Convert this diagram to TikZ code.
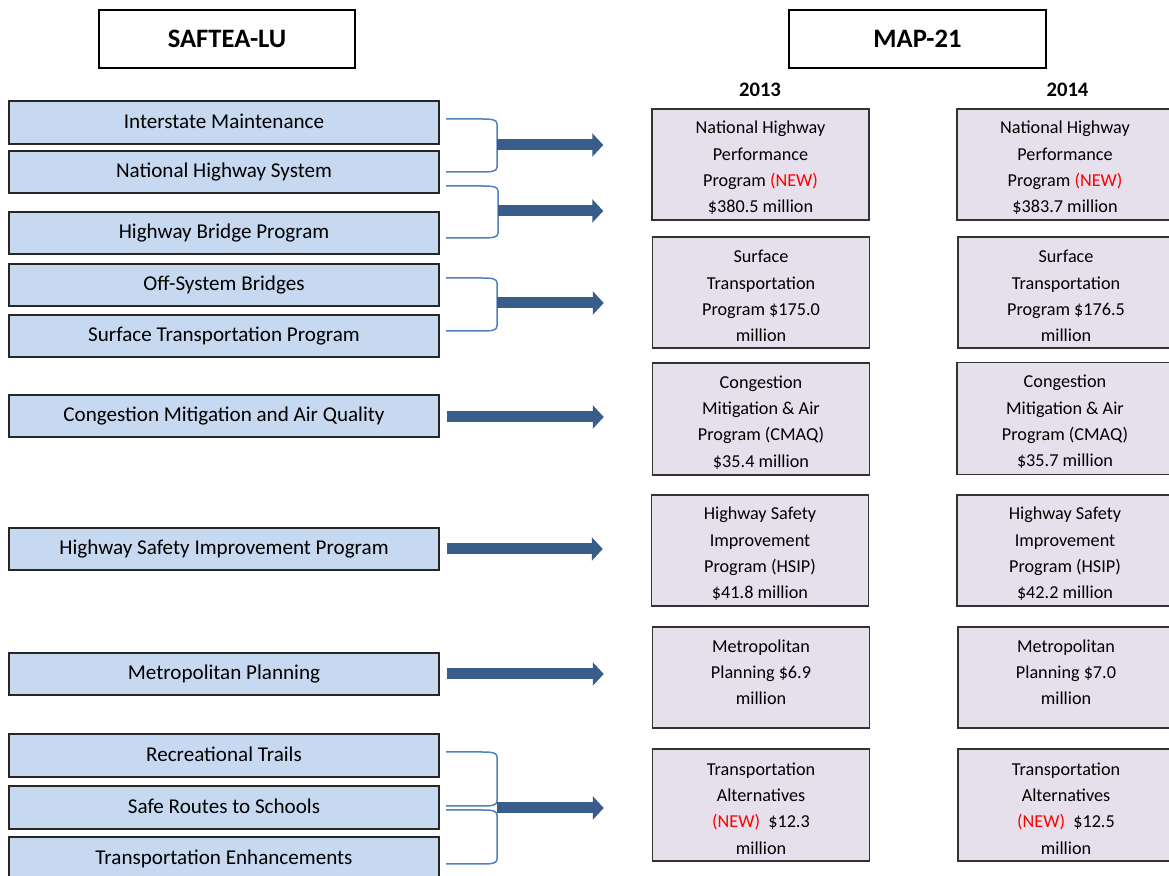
\documentclass[tikz,border=0pt]{standalone}
\usepackage{fontspec}
\setmainfont{Carlito}
\usetikzlibrary{arrows.meta,calc}
\definecolor{lbfill}{HTML}{C6D9F1}
\definecolor{rbfill}{HTML}{E5E0EC}
\definecolor{arrowc}{RGB}{56,93,138}
\definecolor{brkc}{HTML}{4F81BD}
\definecolor{newred}{HTML}{FF0000}
\newcommand\NEW{{\color{newred}(NEW)}}
\newcommand\tstrut{\rule{0pt}{9.8pt}}
\begin{document}
\begin{tikzpicture}[x=0.5pt,y=-0.5pt,
 lbox/.style={draw=black!85, line width=0.9pt, fill=lbfill, minimum width=215pt, minimum height=21.25pt, inner sep=0pt, text height=0.8em, text depth=0.2em, font=\fontsize{10.55}{12}\selectfont},
 rbox/.style={draw=black!80, line width=0.75pt, fill=rbfill, inner sep=0pt, align=center, font=\fontsize{9.1}{13.15}\selectfont},
 rc1/.style={rbox, minimum width=108.5pt},
 rc2/.style={rbox, minimum width=108pt},
 tbox/.style={draw=black, line width=0.8pt, fill=white, minimum width=128pt, minimum height=29pt, inner sep=0pt, font=\bfseries\fontsize{13.3}{16}\selectfont},
 year/.style={inner sep=0pt, font=\bfseries\fontsize{10.3}{12}\selectfont},
 bigarrow/.style={draw=arrowc, line width=5.5pt, -{Triangle[length=5.5pt,width=11.5pt]}, shorten >=24pt},
 brk/.style={draw=brkc, line width=0.75pt},
]
\clip (0,0) rectangle (1169,876);
\fill[white] (0,0) rectangle (1169,876);

% titles
\node[tbox] (saf) at (227,39) {SAFTEA-LU};
\node[tbox, minimum width=128.5pt] (map) at (917.5,39) {MAP-21};
\node[year] (y13) at (760,90) {2013};
\node[year] (y14) at (1067.5,90) {2014};

% left boxes
\node[lbox] (im)   at (224,122.5) {Interstate Maintenance};
\node[lbox] (nhs)  at (224,172)   {National Highway System};
\node[lbox] (hbp)  at (224,233)   {Highway Bridge Program};
\node[lbox] (osb)  at (224,285)   {Off-System Bridges};
\node[lbox] (stp)  at (224,336)   {Surface Transportation Program};
\node[lbox] (cmaq) at (224,416)   {Congestion Mitigation and Air Quality};
\node[lbox] (hsip) at (224,549)   {Highway Safety Improvement Program};
\node[lbox] (mp)   at (224,674)   {Metropolitan Planning};
\node[lbox] (rt)   at (224,755.5) {Recreational Trails};
\node[lbox] (srts) at (224,807.5) {Safe Routes to Schools};
\node[lbox] (te)   at (224,858.5) {Transportation Enhancements};

% 2013 boxes
\node[rc1, minimum height=55.5pt] (nhpp13) at (760.5,164.5) {\tstrut National Highway\\Performance\\Program \NEW\\\$380.5 million};
\node[rc1, minimum height=55.5pt] (stp13)  at (761,292.5) {\tstrut Surface\\Transportation\\Program \$175.0\\million};
\node[rc1, minimum height=56pt]   (cmaq13) at (761,419) {\tstrut Congestion\\Mitigation \& Air\\Program (CMAQ)\\\$35.4 million};
\node[rc1, minimum height=55.5pt] (hsip13) at (760,550.5) {\tstrut Highway Safety\\Improvement\\Program (HSIP)\\\$41.8 million};
\node[rc1, minimum height=50.5pt] (mp13)   at (761,677.5) {Metropolitan\\Planning \$6.9\\million\\[-8pt]\mbox{}};
\node[rc1, minimum height=56pt]   (ta13)   at (761,805) {\tstrut Transportation\\Alternatives\\\NEW\ \ \$12.3\\million};

% 2014 boxes
\node[rc2, minimum height=55.5pt] (nhpp14) at (1065,164.5) {\tstrut National Highway\\Performance\\Program \NEW\\\$383.7 million};
\node[rc2, minimum height=55.5pt] (stp14)  at (1066,292.5) {\tstrut Surface\\Transportation\\Program \$176.5\\million};
\node[rc2, minimum height=56pt]   (cmaq14) at (1065,418.5) {\tstrut Congestion\\Mitigation \& Air\\Program (CMAQ)\\\$35.7 million};
\node[rc2, minimum height=55.5pt] (hsip14) at (1065,550.5) {\tstrut Highway Safety\\Improvement\\Program (HSIP)\\\$42.2 million};
\node[rc2, minimum height=50.5pt] (mp14)   at (1066,677.5) {Metropolitan\\Planning \$7.0\\million\\[-8pt]\mbox{}};
\node[rc2, minimum height=56pt]   (ta14)   at (1066,805) {\tstrut Transportation\\Alternatives\\\NEW\ \ \$12.5\\million};

% brackets
\newcommand\brkt[3]{%
 \draw[brk] (446,#1) -- (482,#1) .. controls ({#3-4},#1) and (#3,{#1+1}) .. (#3,{#1+5})
   -- (#3,{#2-5}) .. controls (#3,{#2-1}) and ({#3-4},#2) .. (482,#2) -- (446,#2);}
\brkt{119}{172}{497}
\brkt{186}{238}{498}
\brkt{278}{331}{497}
\brkt{752}{806}{497}
\brkt{810}{864}{497}

% arrow start points
\coordinate (a1) at (497,145);
\coordinate (a2) at (498,211);
\coordinate (a3) at (497,303);
\coordinate (a7) at (497,808);

\draw[bigarrow] (a1) -- (a1 -| nhpp13.west);
\draw[bigarrow] (a2) -- (a2 -| nhpp13.west);
\draw[bigarrow] (a3) -- (a3 -| stp13.west);
\draw[bigarrow, shorten <=3.5pt] ($(cmaq.east)+(0,1)$) -- ($(cmaq.east -| cmaq13.west)+(0,1)$);
\draw[bigarrow, shorten <=3.5pt] (hsip.east) -- (hsip.east -| hsip13.west);
\draw[bigarrow, shorten <=3.5pt] (mp.east) -- (mp.east -| mp13.west);
\draw[bigarrow] (a7) -- (a7 -| ta13.west);
\end{tikzpicture}
\end{document}
